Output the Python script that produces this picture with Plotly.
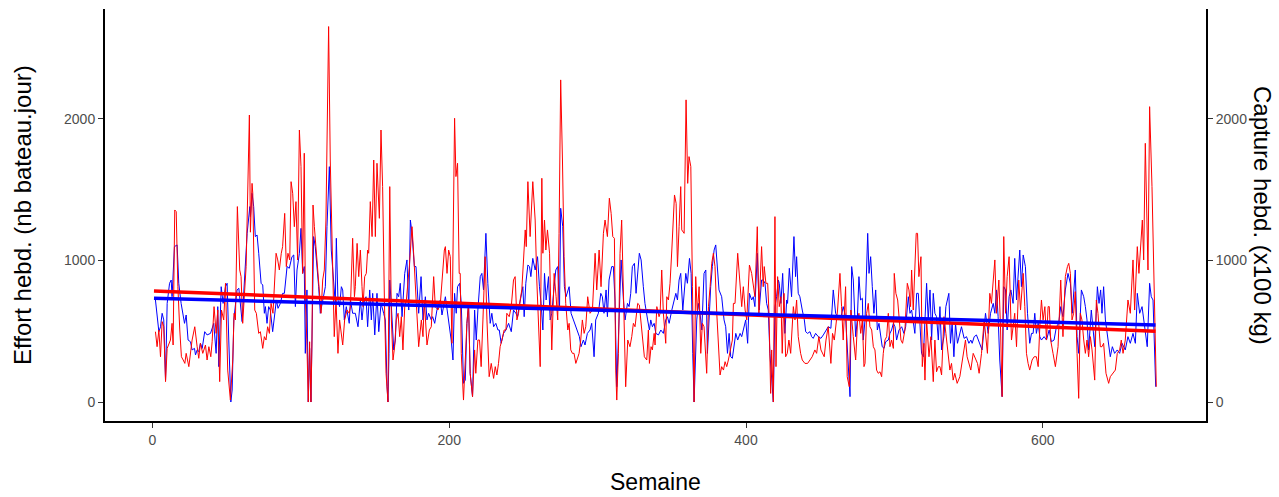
import numpy as np
import plotly.graph_objects as go

# Weekly series: (semaine, valeur)
red_points = [
    (2.0,497),(3.1,391),(4.3,509),(5.4,320),(6.5,568),(7.6,532),(8.8,144),(9.9,379),(12.1,438),(13.2,556),(13.9,403),(15.0,1357),(16.0,1345),(17.1,815),(18.4,509),(19.5,320),(20.7,297),(21.8,273),(22.7,344),(24.5,250),(26.7,438),(28.5,532),(30.1,391),(31.2,309),(32.3,415),(33.9,344),(35.7,403),(36.8,297),(38.0,391),(39.3,320),(40.2,426),(41.5,674),(42.9,485),(44.0,650),(45.3,144),(46.5,650),(48.0,580),(49.2,839),(50.7,226),(52.5,14),(54.1,297),(55.0,627),(55.9,580),(57.2,1381),(58.8,933),(59.7,886),(60.8,556),(61.7,697),(63.1,957),(65.3,2028),
    (66.0,1200),(67.1,1545),(67.6,1475),(68.9,650),(70.0,627),(71.6,485),(72.7,497),(74.3,379),(75.4,462),(76.5,438),(77.6,532),(78.8,485),(79.9,697),(81.2,627),(83.3,1051),(84.4,1004),(85.5,933),(86.8,1051),(87.7,1098),(89.1,1333),(90.2,957),(91.3,1051),(92.5,1004),(93.4,1557),(94.5,1475),(95.6,1239),(96.7,1416),(97.8,1004),(99.0,1922),(100.1,1663),(101.2,909),(102.3,1758),(103.0,744),(104.0,438),(105.0,0),(105.9,426),(106.8,0),(107.5,438),(108.2,1392),(109.1,1239),(110.2,1098),(111.3,909),(112.4,768),(113.6,627),(114.7,862),(115.8,933),(116.9,1286),(118.7,2653),(119.8,1710),(121.4,815),(122.5,462),(123.7,721),(125.0,344),(126.1,580),(127.0,509),(128.2,403),(129.5,580),(131.1,650),(132.6,627),
    (133.4,674),(134.9,1157),(136.1,744),(136.7,815),(137.9,1121),(139.0,886),(140.1,1074),(141.2,815),(141.9,674),(143.0,886),(144.1,909),(145.0,1074),(145.7,1051),(146.8,1416),(148.0,1169),(149.1,1710),(150.2,1169),(151.3,1687),(152.9,1298),(154.0,1922),(155.1,1522),(156.3,721),(157.4,203),(158.7,0),(159.9,1522),(161.0,580),(162.1,297),(163.2,391),(164.3,580),(165.5,627),(166.6,462),(167.7,603),(168.8,368),(170.0,674),(171.1,721),(173.1,957),(174.9,1239),(176.0,1051),(177.1,815),(178.3,603),(179.4,391),(181.2,580),(182.3,462),(183.2,721),(185.0,403),(186.6,509),(187.9,532),(189.5,886),(190.6,674),(192.4,650),(194.0,697),(196.7,1074),(197.4,1098),(198.5,909),(199.6,1074),
    (200.7,1027),(201.8,415),(203.6,2005),(204.5,1593),(205.6,1687),(206.7,909),(207.4,909),(208.1,344),(209.6,14),(210.8,344),(211.9,556),(213.0,697),(214.1,203),(215.7,38),(217.1,368),(217.9,203),(219.3,438),(220.4,438),(221.5,250),(222.7,580),(224.2,1027),(225.4,580),(226.9,179),(228.3,273),(229.9,167),(231.0,250),(232.1,191),(233.2,273),(234.3,391),(235.5,438),(237.0,509),(238.2,509),(238.8,627),(240.4,603),(241.8,674),(243.3,862),(244.4,886),(245.6,580),(246.7,627),(247.8,721),(248.9,792),(251.2,1216),(251.9,1098),(253.0,1557),(254.5,1169),(256.3,1557),(257.9,1286),(259.0,862),(261.3,250),(262.4,1581),(263.1,1051),(264.2,1286),(265.1,1074),(266.2,1216),(267.6,1051),
    (269.1,368),(270.7,909),(272.0,744),(273.1,580),(274.0,1192),(275.1,2276),(276.3,1710),(277.4,1027),(278.5,697),(279.9,509),(280.8,556),(281.9,368),(283.0,344),(284.1,344),(285.3,273),(286.4,309),(287.5,344),(288.6,438),(289.7,580),(290.9,485),(292.0,532),(293.3,744),(294.9,627),(296.5,650),(298.3,1051),(299.4,792),(301.0,1074),(302.3,815),(303.9,1192),(305.0,1286),(306.6,1169),(307.9,1440),(309.1,1333),(310.2,1169),(311.3,1157),(312.2,226),(312.9,14),(314.0,344),(315.1,1051),(316.2,1286),(317.8,580),(318.9,108),(320.3,438),(321.8,391),(323.0,462),(324.1,556),(325.2,532),(327.0,697),(328.1,686),(329.7,485),(331.5,320),(333.1,297),(334.2,509),
    (334.9,273),(336.0,391),(336.9,368),(338.1,485),(338.7,403),(339.9,674),(341.4,603),(342.1,627),(343.2,933),(344.3,627),(345.9,415),(346.6,744),(347.7,721),(348.8,839),(350.0,1074),(351.8,1463),(352.9,1404),(353.8,957),(354.9,1239),(356.0,1522),(356.7,1216),(358.3,1192),(359.6,2135),(360.7,1545),(361.6,1734),(362.8,1663),(363.9,815),(365.0,0),(366.1,886),(367.2,627),(368.4,815),(369.5,344),(370.6,556),(371.7,532),(373.5,203),(374.7,674),(375.8,815),(376.9,980),(378.0,1051),(379.1,957),(380.3,627),(381.4,438),(382.5,191),(383.6,250),(384.8,226),(385.9,285),(387.0,250),(388.1,297),(389.7,368),(390.8,438),(391.5,697),(392.6,697),(394.4,1051),(396.0,815),(397.1,674),(398.2,815),(399.4,650),(400.5,580),(402.3,968),
    (403.8,909),(404.9,815),(406.0,744),(407.6,1239),(408.7,627),(410.5,1098),(411.6,815),(412.3,957),(413.4,839),(414.6,839),(415.5,627),(416.6,61),(417.3,368),(418.4,0),(419.1,815),(419.5,1310),(420.2,250),(421.3,886),(422.4,674),(423.5,744),(424.4,344),(425.6,768),(426.7,320),(427.8,344),(428.9,438),(430.1,344),(431.9,674),(433.0,580),(434.1,721),(435.2,462),(436.8,344),(437.9,297),(439.7,273),(441.5,273),(443.1,297),(444.6,320),(446.4,368),(447.6,344),(449.1,462),(450.5,368),(452.7,320),(453.9,438),(455.4,532),(457.2,273),(458.3,485),(459.5,438),(461.7,650),(463.3,909),(464.4,674),(465.5,438),(467.1,815),(468.2,179),(469.6,108),
    (470.7,650),(472.3,462),(473.9,297),(475.2,580),(476.1,627),(477.3,485),(478.4,580),(479.5,250),(480.2,273),(481.3,627),(482.4,697),(483.5,532),(484.7,509),(485.8,391),(486.9,368),(488.0,226),(489.1,203),(490.3,214),(491.4,179),(492.5,344),(493.6,438),(494.8,462),(495.9,627),(497.0,391),(498.1,438),(499.3,379),(499.9,909),(501.0,768),(502.2,721),(503.3,580),(504.4,438),(505.5,415),(507.1,509),(508.7,839),(509.8,792),(510.9,674),(511.6,933),(512.7,650),(513.8,909),(514.7,1192),(515.6,1192),(516.5,886),(517.9,1027),(518.8,250),(519.9,415),(520.6,155),(521.7,580),(523.3,320),(524.6,462),(526.2,144),(527.3,438),(528.4,214),(529.6,250),(530.7,250),(531.8,191),(533.4,603),(534.7,485),(536.3,320),
    (537.4,226),(538.5,273),(539.6,155),(540.7,203),(542.3,132),(544.1,179),(545.7,285),(546.8,368),(547.9,438),(549.0,320),(550.2,273),(551.5,226),(553.1,344),(554.7,297),(556.0,273),(557.1,203),(558.7,344),(560.5,580),(562.7,344),(564.3,768),(565.4,697),(567.7,1004),(568.8,627),(570.4,862),(571.5,532),(572.6,38),(573.7,1169),(574.9,627),(576.0,886),(577.3,1027),(578.9,438),(580.0,532),(581.1,627),(582.3,391),(583.8,862),(585.0,650),(586.8,909),(587.9,674),(589.0,344),(590.1,273),(591.2,226),(592.8,297),(594.2,320),(595.7,320),(596.9,250),(598.0,532),(599.1,721),(600.2,580),(601.4,674),(602.5,438),(603.6,674),
    (604.4,674),(605.3,438),(606.9,344),(608.5,250),(610.3,391),(612.1,862),(613.6,462),(615.2,886),(616.6,957),(617.5,980),(618.6,909),(619.7,580),(620.8,627),(621.9,780),(623.1,344),(624.2,26),(625.3,627),(626.4,580),(627.6,438),(628.7,344),(629.8,438),(630.9,320),(632.1,462),(633.2,368),(635.0,155),(636.1,721),(637.2,627),(638.8,391),(639.9,391),(641.0,415),(642.6,203),(644.4,132),(645.5,179),(647.3,203),(648.9,226),(650.2,344),(651.8,368),(652.9,438),(654.1,344),(655.6,438),(657.4,721),(659.0,627),(660.8,1004),(661.9,650),(663.7,1098),(664.8,909),(667.1,1286),(668.0,1004),(669.1,1828),(670.9,933),(672.0,2087),(673.6,1522),(674.9,815),(676.1,179),(676.5,108),
]

blue_points = [
    (2.0,721),(3.1,627),(4.3,497),(5.4,532),(6.5,627),(7.6,580),(8.8,155),(9.9,697),(11.5,839),(12.6,862),(13.2,744),(14.8,1098),(16.6,1110),(17.7,839),(19.3,697),(21.6,556),(22.7,615),(24.0,438),(25.6,426),(26.7,368),(28.3,379),(29.0,333),(30.1,368),(31.2,356),(32.3,415),(33.5,379),(35.2,497),(36.8,474),(39.1,485),(41.3,556),(42.9,344),(44.0,674),(44.7,250),(46.3,815),(47.6,697),(49.2,815),(50.3,839),(51.4,438),(52.1,250),(52.8,0),(53.7,85),(54.8,580),(57.0,792),(58.2,804),(60.4,568),(61.5,768),(62.6,957),(63.8,1192),(65.6,1381),
    (66.0,1310),(67.1,1475),(68.2,1381),(69.3,1169),(70.5,1180),(71.6,1051),(73.2,839),(74.3,827),(75.4,627),(76.1,674),(77.2,556),(78.3,674),(79.4,650),(81.0,497),(82.4,603),(83.5,721),(84.6,662),(86.2,697),(87.7,768),(88.9,768),(90.7,957),(92.2,945),(94.0,1027),(95.2,1039),(96.3,674),(97.4,933),(99.0,1051),(100.1,1227),(101.2,909),(102.3,957),(103.0,344),(104.1,792),(105.0,0),(105.9,380),(106.8,0),(107.5,580),(108.6,1169),(109.7,1098),(110.9,957),(112.0,815),(113.1,627),(114.2,697),(116.5,815),(117.6,1239),(119.2,1663),(120.5,1074),(122.1,815),(123.2,697),(123.9,1157),(125.0,721),(126.1,674),(127.3,815),(128.2,792),(129.3,580),(130.6,674),(132.6,556),
    (133.4,721),(134.9,627),(136.7,627),(138.5,532),(140.1,721),(141.2,580),(142.3,697),(143.9,744),(145.0,532),(146.4,792),(147.5,580),(148.4,768),(149.8,474),(151.3,768),(152.5,497),(154.0,697),(155.8,627),(156.9,580),(158.1,108),(158.7,0),(159.4,344),(159.9,862),(161.0,674),(162.6,368),(163.7,438),(164.8,768),(165.9,744),(167.0,839),(168.2,603),(170.0,909),(171.5,1004),(172.7,650),(173.8,1286),(174.9,1192),(176.5,957),(177.6,957),(179.4,627),(181.0,886),(182.3,580),(183.9,744),(185.0,580),(186.1,627),(187.9,580),(188.8,603),(190.2,556),(191.7,650),(194.0,721),(195.1,615),(197.4,744),(199.6,580),
    (201.3,438),(202.5,297),(203.6,768),(204.7,627),(205.6,815),(207.0,839),(208.1,697),(209.6,132),(210.8,155),(211.9,556),(213.0,697),(214.1,203),(215.7,38),(217.1,650),(218.2,438),(219.3,650),(220.9,886),(222.0,909),(223.1,792),(224.7,1192),(226.0,839),(227.6,556),(228.7,627),(229.9,532),(231.4,556),(232.8,509),(233.7,509),(235.0,415),(236.6,485),(238.2,509),(240.0,556),(241.8,497),(243.3,650),(244.9,627),(246.0,603),(247.1,674),(248.5,744),(249.6,815),(250.5,603),(251.6,839),(253.0,968),(254.1,957),(255.0,886),(256.3,1015),(257.9,933),(259.5,1027),(260.8,815),(261.9,697),(263.1,509),(264.2,909),(265.3,721),(266.9,886),
    (268.0,580),(269.1,627),(270.7,815),(271.8,933),(273.1,957),(274.3,650),(275.1,1369),(276.5,1239),(277.6,815),(278.7,744),(280.8,815),(282.1,627),(283.7,580),(285.3,532),(286.4,485),(287.7,462),(288.8,391),(290.4,438),(291.5,403),(293.1,485),(294.9,509),(296.0,556),(297.6,320),(298.7,580),(300.5,627),(302.1,768),(303.2,744),(304.3,627),(305.7,792),(306.6,603),(307.7,862),(309.5,957),(310.6,957),(311.7,721),(312.9,108),(314.4,627),(315.8,1004),(317.4,721),(318.5,580),(320.1,697),(321.2,674),(322.3,768),(323.4,957),(324.8,980),(325.9,768),(328.1,1051),(329.3,1004),(330.8,815),(331.9,697),(333.7,580),(334.9,509),
    (335.8,580),(336.9,532),(338.1,556),(339.2,485),(341.0,474),(342.6,509),(344.3,485),(345.9,580),(347.0,603),(348.2,556),(350.0,650),(351.5,721),(352.7,768),(353.8,721),(354.9,862),(356.0,909),(357.4,650),(359.4,909),(360.5,839),(361.9,1015),(363.0,909),(364.1,344),(365.0,0),(366.8,580),(367.9,697),(369.0,627),(370.2,509),(371.7,909),(372.9,933),(374.0,344),(375.1,627),(376.2,815),(377.3,957),(378.5,1074),(379.6,1110),(380.7,933),(381.8,792),(383.6,744),(385.2,580),(386.3,532),(387.5,344),(388.6,485),(389.7,320),(390.8,309),(391.9,415),(393.1,485),(394.4,438),(396.0,485),(397.1,462),(398.7,532),(399.8,580),(401.1,415),(402.3,768),
    (403.8,721),(404.9,744),(406.0,674),(407.6,1051),(408.9,650),(410.5,862),(411.6,862),(412.8,839),(413.9,697),(415.0,650),(416.1,344),(418.4,0),(419.5,674),(420.6,744),(421.8,862),(422.4,839),(423.5,697),(424.7,909),(426.2,485),(427.4,721),(428.0,697),(429.2,945),(430.7,744),(432.3,1169),(433.4,886),(434.1,1027),(435.2,768),(436.3,744),(437.9,650),(439.3,580),(440.2,497),(441.5,485),(443.1,497),(444.2,462),(445.3,450),(446.9,485),(448.7,462),(450.5,450),(452.1,474),(453.9,509),(455.4,532),(457.2,521),(458.8,792),(460.4,627),(462.2,591),(463.7,580),(465.5,674),(467.1,603),(468.4,344),(469.6,203),
    (470.1,38),(471.2,957),(472.3,862),(473.9,462),(475.0,580),(476.1,886),(477.2,721),(478.4,733),(479.0,438),(480.2,580),(480.8,862),(482.0,1192),(482.9,909),(484.0,1027),(485.1,815),(486.2,627),(487.4,792),(488.5,509),(489.6,556),(490.7,485),(491.8,391),(493.0,379),(494.1,426),(495.9,438),(497.0,485),(498.1,509),(499.3,556),(500.4,532),(501.5,438),(503.1,509),(504.9,532),(506.4,485),(507.6,532),(509.4,744),(510.5,627),(511.6,650),(513.8,485),(515.0,768),(516.1,768),(517.2,556),(518.3,344),(519.5,320),(520.6,650),(521.7,839),(522.8,580),(524.0,792),(525.1,438),(526.2,768),(527.3,627),(528.4,603),(529.6,438),(530.7,674),(531.8,368),(533.4,462),(534.7,674),(536.7,768),
    (537.8,415),(538.9,556),(540.1,320),(541.2,556),(542.5,415),(544.1,485),(545.2,532),(547.0,450),(548.6,462),(550.2,415),(551.5,438),(552.4,415),(553.8,462),(555.3,474),(556.5,438),(558.0,391),(559.1,368),(561.4,627),(563.2,485),(564.8,627),(566.6,697),(567.7,627),(568.8,792),(569.9,603),(571.0,297),(572.6,38),(573.7,815),(574.9,792),(576.0,509),(577.3,744),(578.5,792),(580.0,697),(581.1,1015),(582.3,721),(584.5,1074),(585.6,815),(586.8,1039),(588.3,957),(589.7,627),(591.2,415),(592.4,485),(593.5,485),(594.6,627),(595.7,485),(596.9,556),(598.0,462),(599.1,438),(600.9,462),(602.5,438),(604.3,509),
    (605.8,426),(607.6,438),(609.2,532),(610.7,556),(612.1,674),(613.6,603),(615.2,792),(617.0,909),(618.6,839),(619.9,627),(621.9,933),(623.1,462),(624.2,344),(626.0,792),(627.6,744),(628.7,674),(629.8,580),(630.9,368),(632.7,650),(635.0,391),(636.8,815),(637.9,697),(639.0,792),(639.9,627),(641.0,815),(642.2,580),(643.9,438),(645.5,320),(646.9,391),(648.4,344),(650.2,368),(651.8,344),(653.4,415),(655.6,368),(657.4,462),(659.0,415),(660.8,485),(662.4,415),(663.7,768),(665.3,627),(666.9,674),(668.2,580),(669.1,485),(670.4,391),(672.0,839),(673.1,744),(674.3,721),(675.4,344),(676.1,108),
]

# Linear trends (fitted value at first and last week)
red_trend = [785, 500]
blue_trend = [733, 545]

y_ticks = [0, 1000, 2000]
x_ticks = [0, 200, 400, 600]

red_w, red_v = map(np.array, zip(*red_points))
blue_w, blue_v = map(np.array, zip(*blue_points))
trend_weeks = [1, 676]

RED = "#FF0000"
BLUE = "#0000FF"
FONT = "Liberation Sans, Arial, sans-serif"
Y_RANGE = [-134, 2777]

fig = go.Figure()
fig.add_trace(go.Scatter(x=blue_w, y=blue_v, mode="lines",
                         line=dict(color=BLUE, width=1), showlegend=False))
fig.add_trace(go.Scatter(x=red_w, y=red_v, mode="lines",
                         line=dict(color=RED, width=1), showlegend=False))
fig.add_trace(go.Scatter(x=trend_weeks, y=red_trend, mode="lines",
                         line=dict(color=RED, width=3.5), showlegend=False))
fig.add_trace(go.Scatter(x=trend_weeks, y=blue_trend, mode="lines", yaxis="y2",
                         line=dict(color=BLUE, width=3.5), showlegend=False))

axis_common = dict(
    showgrid=False, zeroline=False, showline=True, linecolor="black",
    linewidth=2, ticks="outside", ticklen=5, tickwidth=1,
    tickcolor="#333333", tickfont=dict(family=FONT, size=14, color="#4D4D4D"),
)

title_font = dict(family=FONT, size=24, color="black")

fig.update_layout(
    width=1279, height=497,
    margin=dict(l=105, r=73, t=9, b=76),
    paper_bgcolor="white", plot_bgcolor="white",
    font=dict(family=FONT),
    xaxis=dict(range=[-32, 710], tickvals=x_ticks, **axis_common),
    yaxis=dict(range=Y_RANGE, tickvals=y_ticks, **axis_common),
    yaxis2=dict(range=Y_RANGE, tickvals=y_ticks, overlaying="y", side="right",
                **axis_common),
    annotations=[
        dict(text="Semaine", xref="paper", yref="paper", x=0.5, y=0,
             yshift=-61, showarrow=False, xanchor="center", yanchor="middle",
             font=dict(family=FONT, size=23, color="black")),
        dict(text="Effort hebd. (nb bateau.jour)", xref="paper", yref="paper",
             x=0, y=0.5, xshift=-83, textangle=-90, showarrow=False,
             xanchor="center", yanchor="middle", font=title_font),
        dict(text="Capture hebd. (x100 kg)", xref="paper", yref="paper",
             x=1, y=0.5, xshift=57, textangle=90, showarrow=False,
             xanchor="center", yanchor="middle", font=title_font),
    ],
)

fig.write_html("out.html")
